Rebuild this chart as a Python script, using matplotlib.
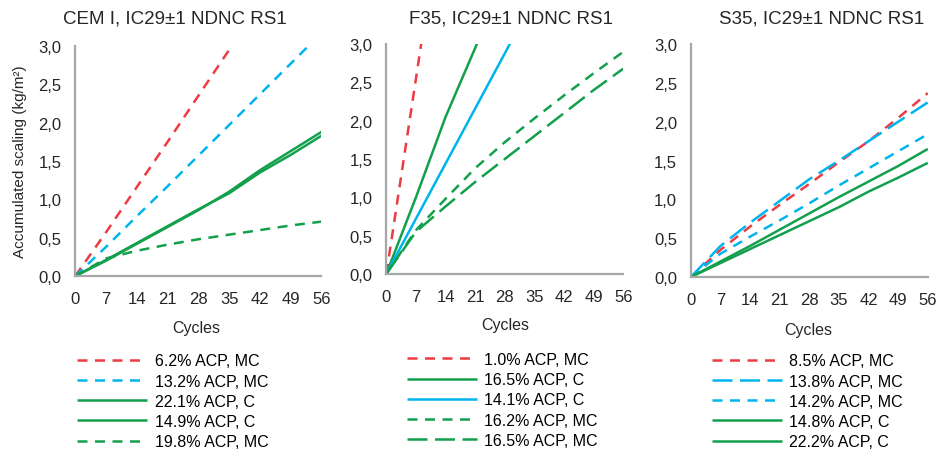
import matplotlib
matplotlib.use("Agg")
import matplotlib.pyplot as plt
from matplotlib.ticker import FuncFormatter

plt.rcParams['font.family'] = ['Liberation Sans', 'DejaVu Sans']

cycles = [0, 7, 14, 21, 28, 35, 42, 49, 56]
yticks = [0.0, 0.5, 1.0, 1.5, 2.0, 2.5, 3.0]

# CEM I panel
cem_red = [0, 0.57, 1.16, 1.75, 2.35, 2.95]
cem_blue = [0, 0.38, 0.78, 1.17, 1.57, 1.97, 2.37, 2.77, 3.17]
cem_g1 = [0, 0.20, 0.42, 0.64, 0.86, 1.10, 1.38, 1.63, 1.88]
cem_g2 = [0, 0.21, 0.43, 0.65, 0.87, 1.08, 1.35, 1.58, 1.83]
cem_g3 = [0, 0.23, 0.33, 0.41, 0.48, 0.54, 0.60, 0.66, 0.71]

# F35 panel
f35_red = [0, 2.55, 5.10]
f35_g1 = [0, 1.00, 2.05, 2.95, 3.90]
f35_blue = [0, 0.72, 1.44, 2.16, 2.88, 3.60]
f35_g2 = [0, 0.57, 0.98, 1.38, 1.72, 2.03, 2.33, 2.62, 2.90]
f35_g3 = [0, 0.55, 0.88, 1.20, 1.50, 1.80, 2.10, 2.40, 2.68]

# S35 panel
s35_red = [0, 0.35, 0.65, 0.93, 1.20, 1.48, 1.75, 2.05, 2.37]
s35_blue1 = [0, 0.40, 0.70, 0.98, 1.26, 1.50, 1.75, 2.00, 2.25]
s35_blue2 = [0, 0.30, 0.52, 0.73, 0.95, 1.18, 1.40, 1.62, 1.84]
s35_g1 = [0, 0.20, 0.40, 0.61, 0.82, 1.03, 1.23, 1.43, 1.65]
s35_g2 = [0, 0.18, 0.36, 0.54, 0.72, 0.90, 1.10, 1.28, 1.47]

RED = '#EE3B43'
BLUE = '#00B4EE'
GREEN = '#12A04C'
SHORT = (0, (4, 3))
LONG = (0, (8, 3))
SOLID = '-'

panels = [
    ("CEM I, IC29±1 NDNC RS1", [
        (cem_red, RED, SHORT, "6.2% ACP, MC"),
        (cem_blue, BLUE, SHORT, "13.2% ACP, MC"),
        (cem_g1, GREEN, SOLID, "22.1% ACP, C"),
        (cem_g2, GREEN, SOLID, "14.9% ACP, C"),
        (cem_g3, GREEN, SHORT, "19.8% ACP, MC"),
    ]),
    ("F35, IC29±1 NDNC RS1", [
        (f35_red, RED, SHORT, "1.0% ACP, MC"),
        (f35_g1, GREEN, SOLID, "16.5% ACP, C"),
        (f35_blue, BLUE, SOLID, "14.1% ACP, C"),
        (f35_g2, GREEN, SHORT, "16.2% ACP, MC"),
        (f35_g3, GREEN, LONG, "16.5% ACP, MC"),
    ]),
    ("S35, IC29±1 NDNC RS1", [
        (s35_red, RED, SHORT, "8.5% ACP, MC"),
        (s35_blue1, BLUE, LONG, "13.8% ACP, MC"),
        (s35_blue2, BLUE, SHORT, "14.2% ACP, MC"),
        (s35_g1, GREEN, SOLID, "14.8% ACP, C"),
        (s35_g2, GREEN, SOLID, "22.2% ACP, C"),
    ]),
]

# axes boxes in figure fractions
boxes = [
    [0.080, 0.387, 0.262, 0.509],
    [0.411, 0.392, 0.252, 0.508],
    [0.735, 0.385, 0.252, 0.515],
]
title_x = [0.186, 0.544, 0.874]
cycles_pos = [(0.209, 0.274), (0.537, 0.279), (0.860, 0.268)]
legend_anchor = [(0.082, 0.110), (0.433, 0.113), (0.757, 0.110)]

fig = plt.figure(figsize=(9.4, 4.52), dpi=100)
txt = '#262626'

for i, (title, series) in enumerate(panels):
    ax = fig.add_axes(boxes[i])
    for vals, col, ls, lab in series:
        ax.plot(cycles[:len(vals)], vals, color=col, linestyle=ls, lw=1.8,
                label=lab, solid_capstyle='butt', dash_capstyle='butt')
    ax.set_xlim(0, 56)
    ax.set_ylim(0, 3.0)
    ax.set_xticks(cycles)
    ax.set_yticks(yticks)
    ax.yaxis.set_major_formatter(FuncFormatter(lambda v, p: f"{v:.1f}".replace('.', ',')))
    for s in ['top', 'right']:
        ax.spines[s].set_visible(False)
    for s in ['left', 'bottom']:
        ax.spines[s].set_color('#A6A6A6')
        ax.spines[s].set_linewidth(1.6)
    ax.tick_params(axis='y', length=0, labelsize=12, colors=txt, pad=10)
    ax.tick_params(axis='x', length=0, labelsize=12, colors=txt, pad=11)
    fig.text(title_x[i], 0.958, title, ha='center', va='center', fontsize=13.5, color=txt)
    fig.text(cycles_pos[i][0], cycles_pos[i][1], "Cycles", ha='center', va='center',
             fontsize=11.5, color=txt)
    ax.legend(loc='center left', bbox_to_anchor=legend_anchor[i],
              bbox_transform=fig.transFigure, frameon=False, fontsize=11.5,
              handlelength=4.4, handletextpad=0.45, labelspacing=0.33,
              borderaxespad=0, borderpad=0)
    if i == 0:
        ax.set_ylabel("Accumulated scaling (kg/m²)", fontsize=11, color=txt, labelpad=8)

fig.savefig("out.png", dpi=100)
